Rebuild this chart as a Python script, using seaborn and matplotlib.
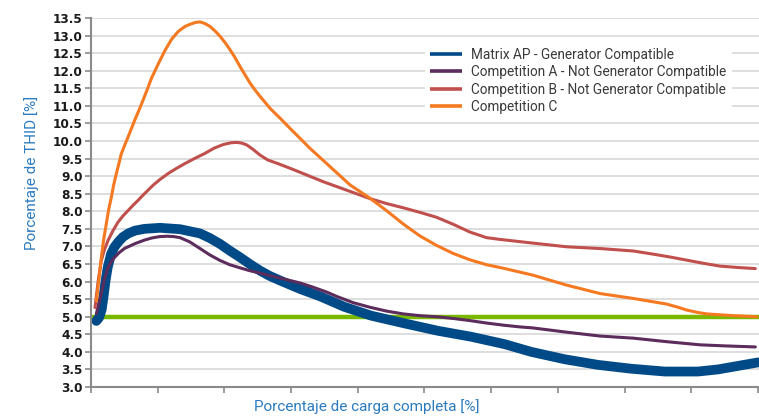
import numpy as np
import pandas as pd
import matplotlib
matplotlib.use("Agg")
import matplotlib.pyplot as plt
import seaborn as sns

# ---------------- data ----------------
series_names = [
    "Matrix AP - Generator Compatible",
    "Competition A - Not Generator Compatible",
    "Competition B - Not Generator Compatible",
    "Competition C",
]

matrix_x = [0.8, 1.2, 1.6, 1.9, 2.2, 2.5, 3.0, 3.5, 4.1, 4.8, 5.6, 6.6, 8, 10.35, 13.35, 16.35, 17.8, 19.35,
            20.8, 22.35, 23.8, 25.35, 26.8, 28.35, 31.35, 34.35, 38, 42, 47, 52, 57, 62, 66, 71, 76, 81, 86, 91, 94, 97, 100]
matrix_y = [4.88, 4.97, 5.2, 5.6, 6.05, 6.4, 6.78, 6.98, 7.13, 7.27, 7.37, 7.45, 7.5, 7.53, 7.49, 7.37, 7.24, 7.07,
            6.88, 6.69, 6.5, 6.31, 6.16, 6.03, 5.79, 5.58, 5.28, 5.03, 4.81, 4.6, 4.43, 4.22, 4.0, 3.79, 3.63, 3.52, 3.44, 3.44, 3.5, 3.6, 3.7]

compA_x = [0.8, 1.2, 1.6, 2.0, 2.5, 3.0, 3.5, 4.2, 5.0, 6.6, 8, 9.1, 10.3, 11.35, 12.4, 13.35, 14.8, 16.35, 17.8,
           19.35, 20.8, 22.35, 23.8, 25.35, 26.8, 28.35, 31.35, 33.3, 35.35, 36.8, 39.3, 41.8, 44.3, 46.8,
           49.3, 51.8, 54.3, 56.8, 59.3, 61.8, 64.3, 66.3, 71.3, 76.3, 81.3, 86.3, 91.3, 95, 99.6]
compA_y = [5.08, 5.4, 5.7, 6.05, 6.37, 6.56, 6.68, 6.82, 6.94, 7.08, 7.18, 7.24, 7.28, 7.29, 7.28, 7.25, 7.13, 6.94, 6.76,
           6.6, 6.48, 6.39, 6.31, 6.24, 6.17, 6.1, 5.96, 5.84, 5.7, 5.58, 5.4, 5.27, 5.16, 5.08,
           5.03, 5.0, 4.95, 4.89, 4.82, 4.76, 4.71, 4.68, 4.56, 4.45, 4.39, 4.29, 4.2, 4.17, 4.14]

compB_x = [0.6, 1.1, 1.55, 2.0, 2.55, 3.3, 4.05, 4.8, 5.55, 6.3, 7.05, 7.8, 8.55, 9.3, 10.3, 11.6, 12.8, 14.1,
           15.5, 17.0, 18.5, 19.84, 21.0, 21.84, 22.6, 23.34, 24.3, 25.34, 26.5, 27.84, 29.5, 31.34, 34.84,
           38.34, 41.84, 44.3, 46.8, 49.3, 51.8, 54.3, 56.8, 59.3, 61.3, 66, 71.3, 76.3, 81.3, 84.3, 86.8,
           89.3, 91.8, 94.3, 97, 99.6]
compB_y = [5.26, 6.05, 6.6, 6.9, 7.17, 7.45, 7.69, 7.87, 8.02, 8.17, 8.31, 8.46, 8.6, 8.74, 8.9, 9.08, 9.22, 9.36,
           9.5, 9.64, 9.8, 9.9, 9.95, 9.96, 9.94, 9.89, 9.76, 9.6, 9.46, 9.37, 9.25, 9.11, 8.84,
           8.6, 8.36, 8.22, 8.1, 7.97, 7.83, 7.63, 7.41, 7.25, 7.2, 7.1, 6.99, 6.94, 6.87, 6.78, 6.7,
           6.61, 6.52, 6.44, 6.4, 6.37]

compC_x = [0.8, 1.2, 1.55, 1.9, 2.3, 2.65, 3.05, 3.4, 3.8, 4.2, 4.55, 5.05, 5.55, 6.05, 6.55, 7.2, 7.8, 8.5, 9.1,
           10.1, 11.1, 12.1, 13.1, 14.1, 14.84, 15.6, 16.34, 17.1, 17.84, 18.6, 19.34, 20.1, 20.84, 21.6,
           22.34, 23.1, 23.84, 24.6, 25.34, 26.1, 26.84, 28.34, 29.84, 32.84, 35.84, 38.84, 41.84, 44.3,
           46.8, 49.3, 51.8, 54.3, 56.8, 59.3, 61.8, 64.3, 66.3, 71.3, 76.3, 81.3, 86.3, 88, 89.3, 91,
           92.3, 96.3, 99.8]
compC_y = [5.45, 6.1, 6.69, 7.2, 7.65, 8.05, 8.4, 8.75, 9.07, 9.37, 9.64, 9.88, 10.11, 10.35, 10.59, 10.88, 11.16, 11.5, 11.8,
           12.2, 12.58, 12.9, 13.12, 13.26, 13.32, 13.37, 13.39, 13.34, 13.26, 13.13, 12.98, 12.8, 12.6, 12.37,
           12.12, 11.88, 11.65, 11.45, 11.27, 11.1, 10.93, 10.65, 10.36, 9.79, 9.27, 8.75, 8.37, 8.02,
           7.64, 7.3, 7.03, 6.8, 6.62, 6.48, 6.38, 6.27, 6.18, 5.9, 5.66, 5.52, 5.36, 5.27, 5.19, 5.12,
           5.08, 5.03, 5.0]

limit_value = 5.0
y_ticks = [3.0 + 0.5 * i for i in range(22)]
x_ticks = list(range(0, 101, 10))

colors = ["#004a87", "#5b2c5c", "#c0504d", "#f47920"]
limit_color = "#7ab800"

frames = []
for name, xs, ys in zip(series_names,
                        [matrix_x, compA_x, compB_x, compC_x],
                        [matrix_y, compA_y, compB_y, compC_y]):
    frames.append(pd.DataFrame({"load": xs, "thid": ys, "series": name}))
df = pd.concat(frames, ignore_index=True)

# ---------------- plot ----------------
sns.set_style("white")
plt.rcParams["font.family"] = ["DejaVu Sans"]

fig = plt.figure(figsize=(7.59, 4.16), dpi=100)
ax = fig.add_axes([91 / 759, (416 - 387) / 416, 668 / 759, 369 / 416])

for yv in y_ticks:
    ax.axhline(yv, color="#d4d4d4", lw=1.1, zorder=0)

ax.axhline(limit_value, color=limit_color, lw=3.2, zorder=1)

widths = [7.0, 2.2, 2.2, 2.2]
for i, (name, c, w) in enumerate(zip(series_names, colors, widths)):
    sub = df[df["series"] == name]
    sns.lineplot(data=sub, x="load", y="thid", color=c, linewidth=w, ax=ax,
                 sort=False, estimator=None, label=name, zorder=2 + i,
                 solid_capstyle="round", solid_joinstyle="round")

ax.set_xlim(0, 100.15)
ax.set_ylim(3.0, 13.5)
ax.set_yticks(y_ticks)
ax.set_yticklabels([f"{v:.1f}" for v in y_ticks], fontsize=8.7, fontweight="bold", color="#1a1a1a")
ax.set_xticks(x_ticks)
ax.set_xticklabels([])
ax.tick_params(axis="both", which="both", direction="out", length=4, width=1.2,
               color="#8a8a8a", pad=2)
ax.tick_params(axis="y", left=True)
ax.tick_params(axis="x", bottom=True)

for s in ["top", "right"]:
    ax.spines[s].set_visible(False)
for s in ["left", "bottom"]:
    ax.spines[s].set_color("#8a8a8a")
    ax.spines[s].set_linewidth(1.5)

ax.set_xlabel("Porcentaje de carga completa [%]", fontsize=11, color="#2b7bbf",
              family=["Roboto", "DejaVu Sans"], labelpad=3)
ax.xaxis.label.set_x(0.413)
ax.set_ylabel("Porcentaje de THID [%]", fontsize=11, color="#2b7bbf",
              family=["Roboto", "DejaVu Sans"], labelpad=10)
ax.yaxis.label.set_y(0.58)

leg = ax.legend(loc="upper left", bbox_to_anchor=((425 - 91) / 668, 0.934),
                frameon=True, facecolor="white", edgecolor="none", framealpha=1,
                fancybox=False, borderpad=0.4, borderaxespad=0,
                handlelength=2.3, handletextpad=0.7, labelspacing=0.25,
                prop={"family": ["Roboto", "DejaVu Sans"], "size": 9.8})
for line in leg.get_lines():
    line.set_linewidth(2.6)
    line.set_solid_capstyle("butt")
for t in leg.get_texts():
    t.set_color("#3a3a3a")
leg.set_zorder(20)

fig.savefig("out.png", dpi=100)
